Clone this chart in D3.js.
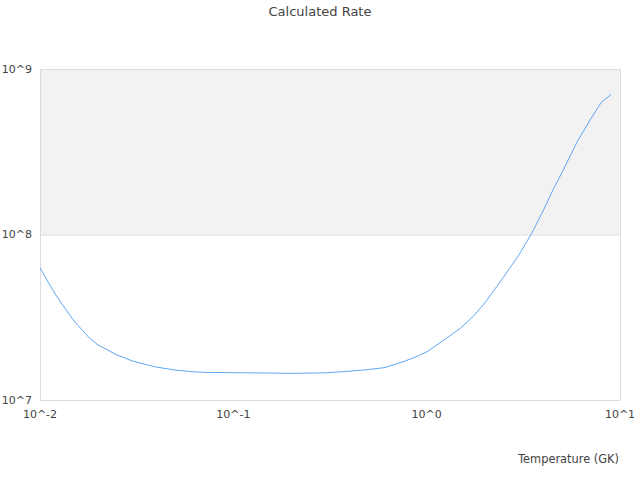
<!DOCTYPE html>
<html><head><meta charset="utf-8">
<script src="https://cdn.jsdelivr.net/npm/d3@7"></script>
<style>body{margin:0;background:#fff;} text{font-family:"DejaVu Sans",sans-serif;}</style>
</head><body><svg id="c" width="640" height="480"></svg>
<script>
const title = "Calculated Rate";
const xTitle = "Temperature (GK)";
const temps = [0.01,0.011,0.012,0.013,0.014,0.015,0.016,0.018,0.02,0.025,0.03,0.035,0.04,0.05,0.06,0.07,0.08,0.1,0.15,0.2,0.3,0.4,0.5,0.6,0.7,0.8,0.9,1,1.25,1.5,1.75,2,2.5,3,3.5,4,4.5,5,6,7,8,9];
const logRates = [7.801,7.713,7.640,7.580,7.526,7.477,7.441,7.375,7.332,7.272,7.236,7.215,7.199,7.181,7.172,7.167,7.166,7.165,7.163,7.161,7.164,7.174,7.184,7.195,7.218,7.242,7.266,7.290,7.369,7.435,7.508,7.586,7.743,7.876,8.009,8.142,8.269,8.372,8.559,8.692,8.798,8.846];
const xTicks = [0.01,0.1,1,10];
const xTickLabels = ["10^-2","10^-1","10^0","10^1"];
const yTicks = [1e7,1e8,1e9];
const yTickLabels = ["10^7","10^8","10^9"];

const svg = d3.select("#c");
const L=40,R=620,T=69,B=400;
const x = d3.scaleLog().domain([0.01,10]).range([L,R]);
const y = d3.scaleLog().domain([1e7,1e9]).range([B,T]);

svg.append("rect").attr("x",L).attr("y",y(1e9)).attr("width",R-L).attr("height",y(1e8)-y(1e9)).attr("fill","#f2f2f2");
svg.selectAll("line.g").data(yTicks).enter().append("line")
  .attr("x1",L).attr("x2",R).attr("y1",d=>y(d)+0.5).attr("y2",d=>y(d)+0.5)
  .attr("stroke","#dcdcdc").attr("stroke-width",1);
svg.append("line").attr("x1",L+0.5).attr("x2",L+0.5).attr("y1",T).attr("y2",B).attr("stroke","#dcdcdc");
svg.append("line").attr("x1",R+0.5).attr("x2",R+0.5).attr("y1",T).attr("y2",B).attr("stroke","#dcdcdc");

const data = temps.map((t,i)=>({t, r:Math.pow(10,logRates[i])}));
svg.append("path").datum(data)
  .attr("d", d3.line().x(d=>x(d.t)).y(d=>y(d.r)))
  .attr("fill","none").attr("stroke","#5ea8f2").attr("stroke-width",1);

svg.selectAll("text.yl").data(yTicks).enter().append("text")
  .attr("x",32).attr("y",d=>y(d)).attr("dy","0.35em").attr("text-anchor","end")
  .attr("font-size",11).attr("fill","#444").text((d,i)=>yTickLabels[i]);
svg.selectAll("text.xl").data(xTicks).enter().append("text")
  .attr("x",d=>x(d)).attr("y",418).attr("text-anchor","middle")
  .attr("font-size",11).attr("fill","#444").text((d,i)=>xTickLabels[i]);
svg.append("text").attr("x",R-1).attr("y",463).attr("text-anchor","end")
  .attr("font-size",11.4).attr("fill","#444").text(xTitle);
svg.append("text").attr("x",320).attr("y",16).attr("text-anchor","middle")
  .attr("font-size",13).attr("fill","#444").text(title);
</script></body></html>
